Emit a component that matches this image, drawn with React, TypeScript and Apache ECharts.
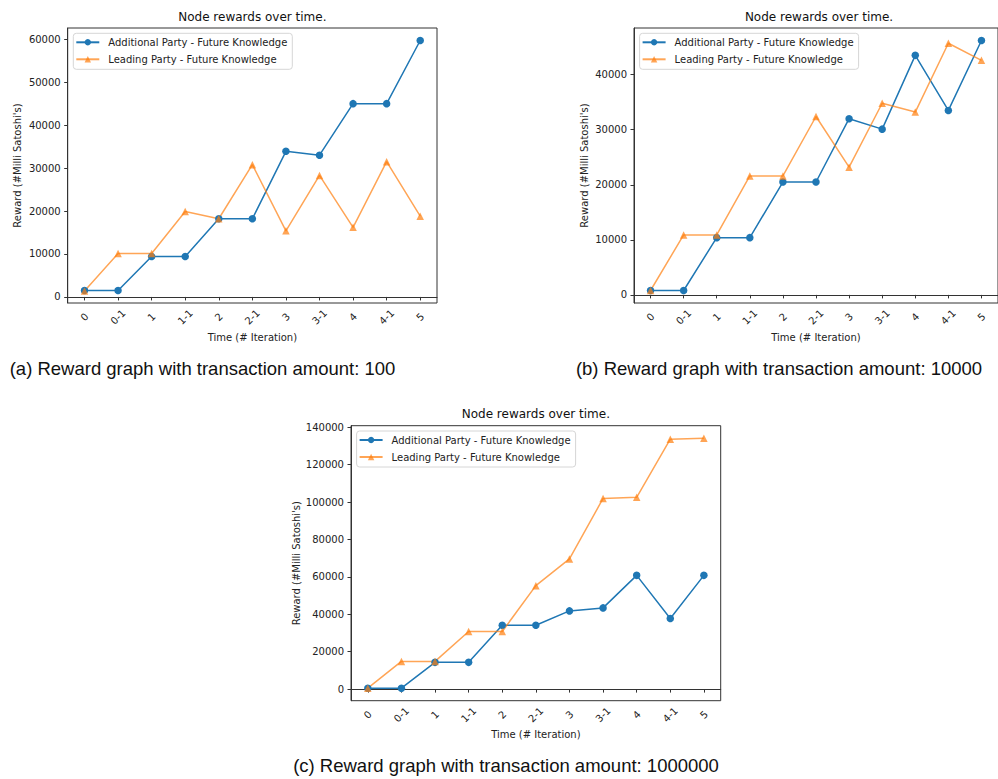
import React, { useEffect, useRef } from "react";
import * as echarts from "echarts";

const categories = ["0", "0-1", "1", "1-1", "2", "2-1", "3", "3-1", "4", "4-1", "5"];

const additionalA = [1500, 1500, 9400, 9400, 18200, 18200, 33900, 33000, 45000, 45000, 59700];
const leadingA = [1400, 10100, 10100, 19900, 18200, 30800, 15400, 28300, 16200, 31500, 18800];

const additionalB = [800, 800, 10400, 10400, 20500, 20500, 32000, 30100, 43500, 33500, 46200];
const leadingB = [800, 10900, 10900, 21600, 21600, 32400, 23200, 34800, 33200, 45700, 42600];

const additionalC = [500, 500, 14300, 14300, 34100, 34100, 41800, 43400, 60800, 37700, 60800];
const leadingC = [500, 14800, 14800, 30800, 30800, 55300, 69600, 101900, 102500, 133600, 134100];

const ticksA = [0, 10000, 20000, 30000, 40000, 50000, 60000];
const ticksB = [0, 10000, 20000, 30000, 40000];
const ticksC = [0, 20000, 40000, 60000, 80000, 100000, 120000, 140000];

const seriesNames = ["Additional Party - Future Knowledge", "Leading Party - Future Knowledge"];
const chartTitle = "Node rewards over time.";
const xName = "Time (# Iteration)";
const yName = "Reward (#Milli Satoshi's)";
const captions = [
  "(a) Reward graph with transaction amount: 100",
  "(b) Reward graph with transaction amount: 10000",
  "(c) Reward graph with transaction amount: 1000000",
];

const FONT = "DejaVu Sans";

export default function App() {
  const ref = useRef<HTMLDivElement>(null);

  useEffect(() => {
    if (!ref.current) return;
    const chart = echarts.init(ref.current, null, { renderer: "svg" });

    const panels = [
      { left: 67.7, top: 28, width: 369.3, height: 275, min: -1410, max: 62610, ticks: ticksA, add: additionalA, lead: leadingA, yGap: 45, capX: 202.5, capY: 368 },
      { left: 634, top: 28, width: 370, height: 275, min: -1470, max: 48470, ticks: ticksB, add: additionalB, lead: leadingB, yGap: 45, capX: 779, capY: 368 },
      { left: 351, top: 425.7, width: 369.7, height: 275, min: -6200, max: 140800, ticks: ticksC, add: additionalC, lead: leadingC, yGap: 50, capX: 506, capY: 765 },
    ];

    const grid: any[] = [];
    const xAxis: any[] = [];
    const yAxis: any[] = [];
    const series: any[] = [];
    const legend: any[] = [];
    const graphic: any[] = [];

    panels.forEach((p, i) => {
      grid.push({
        left: p.left,
        top: p.top,
        width: p.width,
        height: p.height,
        show: true,
        borderColor: "#333",
        borderWidth: 1,
        backgroundColor: "transparent",
      });
      xAxis.push({
        type: "category",
        gridIndex: i,
        data: categories,
        boundaryGap: true,
        name: xName,
        nameLocation: "middle",
        nameGap: 29,
        nameTextStyle: { fontFamily: FONT, fontSize: 10, color: "#222" },
        axisLine: { show: true, lineStyle: { color: "#333", width: 1 } },
        axisTick: { show: true, alignWithLabel: true, length: 3.5, lineStyle: { color: "#333" } },
        axisLabel: {
          rotate: 45,
          align: "center",
          verticalAlign: "middle",
          margin: 14,
          interval: 0,
          fontFamily: FONT,
          fontSize: 10,
          color: "#222",
        },
        splitLine: { show: false },
      });
      yAxis.push({
        type: "value",
        gridIndex: i,
        min: p.min,
        max: p.max,
        name: yName,
        nameLocation: "middle",
        nameGap: p.yGap,
        nameTextStyle: { fontFamily: FONT, fontSize: 10, color: "#222" },
        axisLine: { show: true, lineStyle: { color: "#333", width: 1 } },
        axisTick: { show: true, length: 3.5, lineStyle: { color: "#333" }, customValues: p.ticks },
        axisLabel: {
          customValues: p.ticks,
          margin: 7,
          fontFamily: FONT,
          fontSize: 10,
          color: "#222",
          formatter: (v: number) => String(v),
        },
        splitLine: { show: false },
      });
      series.push({
        name: seriesNames[0],
        type: "line",
        xAxisIndex: i,
        yAxisIndex: i,
        data: p.add,
        symbol: "circle",
        symbolSize: 7.5,
        showSymbol: true,
        lineStyle: { color: "#1f77b4", width: 1.5 },
        itemStyle: { color: "#1f77b4" },
        emphasis: { disabled: true },
      });
      series.push({
        name: seriesNames[1],
        type: "line",
        xAxisIndex: i,
        yAxisIndex: i,
        data: p.lead,
        symbol: "triangle",
        symbolSize: 7.5,
        showSymbol: true,
        lineStyle: { color: "#ff7f0e", width: 1.5, opacity: 0.7 },
        itemStyle: { color: "#ff7f0e", opacity: 0.7 },
        emphasis: { disabled: true },
      });
      legend.push({
        data: seriesNames,
        orient: "vertical",
        left: p.left + 5.6,
        top: p.top + 5.3,
        padding: [3, 5, 4, 2],
        itemWidth: 23,
        itemHeight: 8,
        itemGap: 5,
        backgroundColor: "rgba(255,255,255,0.8)",
        borderColor: "#d6d6d6",
        borderWidth: 1,
        borderRadius: 3,
        selectedMode: false,
        textStyle: { fontFamily: FONT, fontSize: 10, color: "#222", lineHeight: 12, padding: [0, 0, 0, 4] },
      });
      graphic.push({
        type: "text",
        x: p.left + p.width / 2,
        y: p.top - 11.5,
        style: {
          text: chartTitle,
          font: `12px "${FONT}"`,
          fill: "#111",
          textAlign: "center",
          textVerticalAlign: "middle",
        },
      });
      graphic.push({
        type: "text",
        x: p.capX,
        y: p.capY,
        style: {
          text: captions[i],
          font: `18.5px "Liberation Sans", Arial, sans-serif`,
          fill: "#111",
          textAlign: "center",
          textVerticalAlign: "middle",
        },
      });
    });

    chart.setOption({
      animation: false,
      backgroundColor: "#fff",
      grid,
      xAxis,
      yAxis,
      series,
      legend,
      graphic,
    });

    return () => chart.dispose();
  }, []);

  return (
    <div
      ref={ref}
      style={{ position: "absolute", left: 0, top: 0, width: 998, height: 779 }}
    />
  );
}
